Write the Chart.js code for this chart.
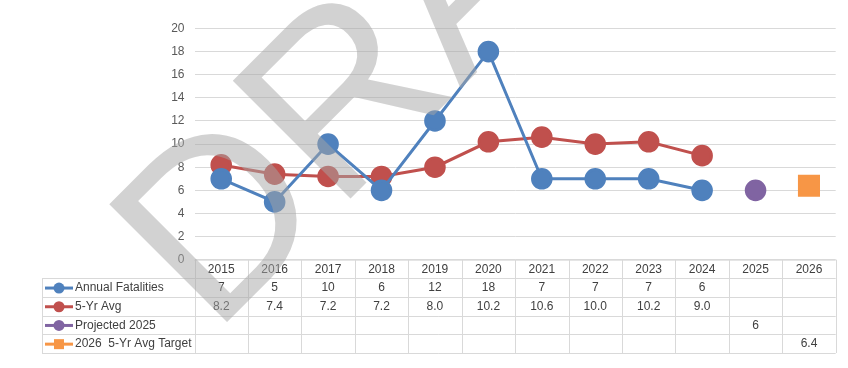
<!DOCTYPE html>
<html>
<head>
<meta charset="utf-8">
<script src="https://cdn.jsdelivr.net/npm/chart.js@4.4.1/dist/chart.umd.min.js"></script>
<style>
  html, body { margin: 0; padding: 0; background: #fff; }
  canvas { display: block; }
</style>
</head>
<body>
<canvas id="chart" width="848" height="368"></canvas>
<script>
const years = ['2015', '2016', '2017', '2018', '2019', '2020', '2021', '2022', '2023', '2024', '2025', '2026'];
const annualFatalities = [7, 5, 10, 6, 12, 18, 7, 7, 7, 6, null, null];
const fiveYrAvg = [8.2, 7.4, 7.2, 7.2, 8.0, 10.2, 10.6, 10.0, 10.2, 9.0, null, null];
const projected2025 = [null, null, null, null, null, null, null, null, null, null, 6, null];
const target2026 = [null, null, null, null, null, null, null, null, null, null, null, 6.4];
const yTicks = [0, 2, 4, 6, 8, 10, 12, 14, 16, 18, 20];

const tableFont = '12px "Liberation Sans", Arial, sans-serif';
const textColor = '#404040';
const lineColor = '#d9d9d9';

// formatting of each row in the data table
const rowFormat = [
  v => String(v),
  v => v.toFixed(1),
  v => String(v),
  v => String(v),
];

// data table under the plot, columns follow the x scale
const dataTable = {
  id: 'dataTable',
  afterDraw(chart) {
    const ctx = chart.ctx;
    const x = chart.scales.x;
    const area = chart.chartArea;
    const colW = (area.right - area.left) / years.length;
    const tableLeft = 42;
    const top = area.bottom;
    const headH = 18.5;
    const rowH = 18.7;
    const rows = chart.data.datasets.length;
    const bottom = top + headH + rows * rowH;

    ctx.save();
    ctx.strokeStyle = lineColor;
    ctx.lineWidth = 1;
    ctx.beginPath();
    ctx.moveTo(area.left, top + 0.5);
    ctx.lineTo(area.right, top + 0.5);
    for (let r = 0; r <= rows; r++) {
      const y = Math.round(top + headH + r * rowH) + 0.5;
      ctx.moveTo(tableLeft, y);
      ctx.lineTo(area.right, y);
    }
    for (let i = 0; i <= years.length; i++) {
      const cx = Math.round(area.left + i * colW) + 0.5;
      ctx.moveTo(cx, top);
      ctx.lineTo(cx, bottom);
    }
    ctx.moveTo(tableLeft + 0.5, top + headH);
    ctx.lineTo(tableLeft + 0.5, bottom);
    ctx.stroke();

    ctx.font = tableFont;
    ctx.fillStyle = textColor;
    ctx.textAlign = 'center';
    ctx.textBaseline = 'middle';
    years.forEach((yr, i) => {
      ctx.fillText(yr, x.getPixelForValue(i), top + headH / 2 + 1);
    });

    chart.data.datasets.forEach((ds, r) => {
      const cy = top + headH + r * rowH + rowH / 2 + 0.5;
      // legend key
      ctx.strokeStyle = ds.borderColor;
      ctx.fillStyle = ds.backgroundColor;
      ctx.lineWidth = 3;
      ctx.beginPath();
      ctx.moveTo(45, cy);
      ctx.lineTo(73, cy);
      ctx.stroke();
      if (ds.pointStyle === 'rect') {
        ctx.fillRect(59 - 5, cy - 5, 10, 10);
      } else {
        ctx.beginPath();
        ctx.arc(59, cy, 5.5, 0, Math.PI * 2);
        ctx.fill();
      }
      ctx.fillStyle = textColor;
      ctx.textAlign = 'left';
      ctx.fillText(ds.label, 75, cy);
      ctx.textAlign = 'center';
      ds.data.forEach((v, i) => {
        if (v === null) return;
        ctx.fillText(rowFormat[r](v), x.getPixelForValue(i), cy);
      });
    });
    ctx.restore();
  }
};

// big rotated watermark drawn over everything
const watermark = {
  id: 'watermark',
  afterDraw(chart) {
    const ctx = chart.ctx;
    ctx.save();
    ctx.translate(213, 336);
    ctx.rotate(-Math.PI / 4);
    ctx.font = '242px "Liberation Sans", Arial, sans-serif';
    ctx.fillStyle = 'rgba(166, 166, 166, 0.5)';
    ctx.textBaseline = 'alphabetic';
    ctx.fillText('DRAFT', 0, 0);
    ctx.restore();
  }
};

new Chart(document.getElementById('chart'), {
  type: 'line',
  data: {
    labels: years,
    datasets: [
      {
        label: 'Annual Fatalities',
        data: annualFatalities,
        borderColor: '#4f81bd',
        backgroundColor: '#4f81bd',
        borderWidth: 3,
        pointRadius: 9.3,
        pointStyle: 'circle',
      },
      {
        label: '5-Yr Avg',
        data: fiveYrAvg,
        borderColor: '#c0504d',
        backgroundColor: '#c0504d',
        borderWidth: 3,
        pointRadius: 9.3,
        pointStyle: 'circle',
      },
      {
        label: 'Projected 2025',
        data: projected2025,
        borderColor: '#8064a2',
        backgroundColor: '#8064a2',
        borderWidth: 3,
        pointRadius: 9.3,
        pointStyle: 'circle',
      },
      {
        label: '2026  5-Yr Avg Target',
        data: target2026,
        borderColor: '#f79646',
        backgroundColor: '#f79646',
        borderWidth: 3,
        pointRadius: 13.5,
        pointStyle: 'rect',
      },
    ],
  },
  options: {
    responsive: false,
    devicePixelRatio: 1,
    animation: false,
    events: [],
    layout: {
      autoPadding: false,
      padding: { left: 134.5, right: 12.3, top: 28.5, bottom: 108.3 },
    },
    plugins: {
      legend: { display: false },
      tooltip: { enabled: false },
    },
    elements: {
      line: { tension: 0 },
      point: { borderWidth: 0 },
    },
    scales: {
      x: {
        display: false,
        offset: true,
      },
      y: {
        min: 0,
        max: 20,
        afterFit: (s) => { s.width = 60; },
        afterBuildTicks: (s) => { s.ticks = yTicks.map(v => ({ value: v })); },
        border: { display: false },
        grid: { color: lineColor, lineWidth: 1, drawTicks: false },
        ticks: {
          padding: 10,
          color: '#595959',
          font: { family: '"Liberation Sans", Arial, sans-serif', size: 12 },
        },
      },
    },
  },
  plugins: [dataTable, watermark],
});
</script>
</body>
</html>
